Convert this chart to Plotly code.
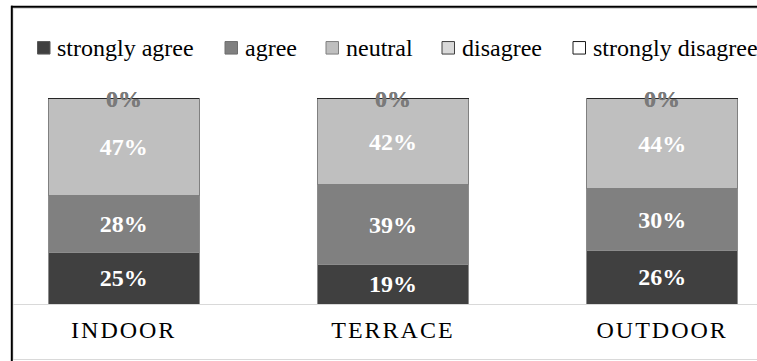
import plotly.graph_objects as go

# Survey responses per seating area (percent of respondents)
locations = ["INDOOR", "TERRACE", "OUTDOOR"]
strongly_agree = [25, 19, 26]
agree = [28, 39, 30]
neutral = [47, 42, 44]
disagree = [0, 0, 0]
strongly_disagree = [0, 0, 0]

series_names = ["strongly agree", "agree", "neutral", "disagree", "strongly disagree"]
series_values = [strongly_agree, agree, neutral, disagree, strongly_disagree]
series_colors = ["#404040", "#808080", "#bfbfbf", "#d9d9d9", "#ffffff"]
outline_colors = ["#8c8c8c", "#8c8c8c", "#808080", "#595959", "#262626"]
key_outline = ["#595959", "#6e6e6e", "#7f7f7f", "#404040", "#1a1a1a"]

W, H = 757, 361
ML, MR, MT, MB = 12, 0, 8, 57
PW, PH = W - ML - MR, H - MT - MB

FONT = "Liberation Serif"
x_pos = list(range(len(locations)))


def px_x(p):
    return (p - ML) / PW


def px_y(p):
    return (H - MB - p) / PH


fig = go.Figure()
for name, vals, col, oc in zip(series_names, series_values, series_colors, outline_colors):
    fig.add_trace(go.Bar(
        x=x_pos, y=vals, name=name, showlegend=False,
        marker=dict(color=col, line=dict(color=oc, width=1)),
        width=0.562,
        text=[f"{v}%" if v > 0 else "" for v in vals],
        textposition="inside", insidetextanchor="middle",
        textfont=dict(family=FONT, size=24, color="white", weight="bold"),
        constraintext="none",
        hoverinfo="skip",
    ))

# zero-valued categories are labelled at the top of each stack
annotations = []
for i in range(len(locations)):
    top = sum(v[i] for v in series_values)
    for vals in (disagree, strongly_disagree):
        if vals[i] == 0:
            annotations.append(dict(
                x=x_pos[i], y=top, xref="x", yref="y", text=f"{vals[i]}%",
                showarrow=False, yanchor="middle",
                font=dict(family=FONT, size=24, color="#7a7a7a", weight="bold"),
            ))

shapes = [
    # light chart border
    dict(type="rect", xref="paper", yref="paper", x0=px_x(13), x1=px_x(770),
         y0=px_y(359.5), y1=px_y(8.3), line=dict(color="#d9d9d9", width=1.2), layer="below"),
    # dark frame on left and top
    dict(type="line", xref="paper", yref="paper", x0=px_x(11.8), x1=px_x(11.8),
         y0=px_y(5.8), y1=px_y(365), line=dict(color="black", width=2)),
    dict(type="line", xref="paper", yref="paper", x0=px_x(11), x1=px_x(770),
         y0=px_y(6.7), y1=px_y(6.7), line=dict(color="black", width=2)),
]

# horizontal key across the top: swatch + label for every series
key_left = [37.5, 225.0, 326.0, 442.0, 573.0]
key_text_gap = 17.5
key_size = 12.5
key_mid = 47.8
for name, col, kc, kx in zip(series_names, series_colors, key_outline, key_left):
    shapes.append(dict(
        type="rect", xref="paper", yref="paper",
        x0=px_x(kx), x1=px_x(kx + key_size),
        y0=px_y(key_mid + key_size / 2), y1=px_y(key_mid - key_size / 2),
        fillcolor=col, line=dict(color=kc, width=1),
    ))
    annotations.append(dict(
        x=px_x(kx + key_text_gap), y=px_y(key_mid), xref="paper", yref="paper",
        text=name, showarrow=False, xanchor="left", yanchor="middle",
        font=dict(family=FONT, size=24, color="black"),
    ))

ymax = 100 * PH / (304 - 98.5)

fig.update_layout(
    template="none",
    width=W, height=H,
    margin=dict(l=ML, r=MR, t=MT, b=MB, pad=0),
    barmode="stack",
    paper_bgcolor="white", plot_bgcolor="white",
    font=dict(family=FONT, color="black", size=24),
    showlegend=False,
    xaxis=dict(
        range=[-0.4149, 2.3522], tickmode="array", tickvals=x_pos,
        ticktext=[f'<span style="letter-spacing:2px">{t}</span>' for t in locations],
        tickfont=dict(family=FONT, size=24, color="black"),
        ticklabelstandoff=4,
        showline=True, linecolor="#d9d9d9", linewidth=1.3,
        showgrid=False, zeroline=False, ticks="",
    ),
    yaxis=dict(range=[0, ymax], visible=False, showgrid=False, zeroline=False),
    annotations=annotations,
    shapes=shapes,
)

fig.write_html("out.html")
